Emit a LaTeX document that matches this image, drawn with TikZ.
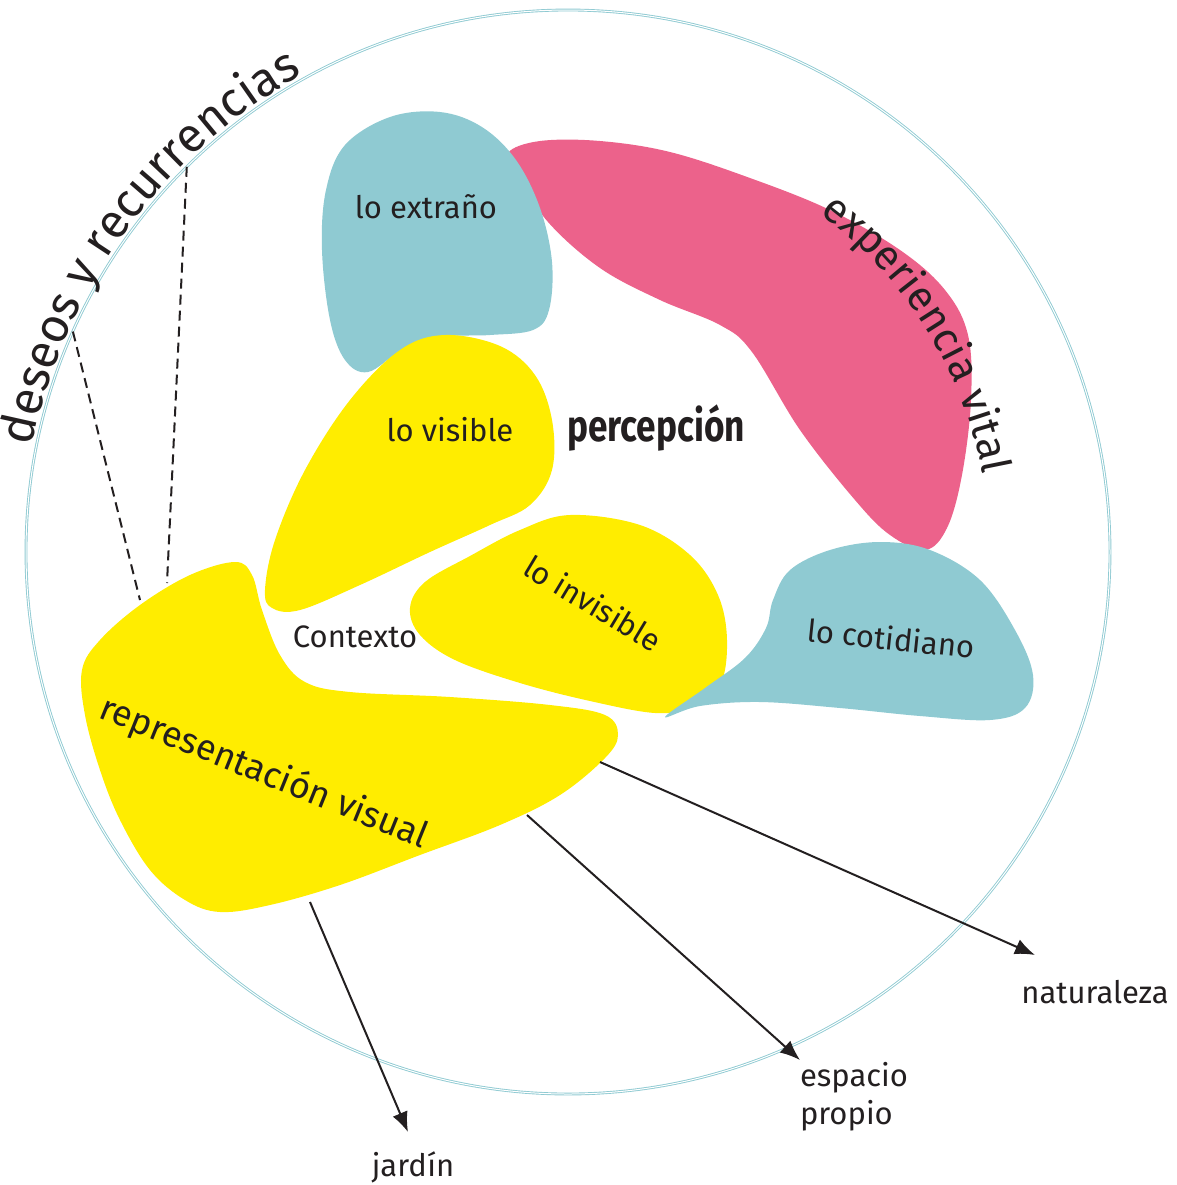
\documentclass[tikz,border=0pt]{standalone}
\usepackage{fontspec}
\setmainfont{Fira Sans}
\usetikzlibrary{arrows.meta,decorations.text,calc}
\definecolor{agua}{HTML}{8FCAD2}
\definecolor{rosa}{HTML}{EC628B}
\definecolor{amarillo}{HTML}{FFED00}
\definecolor{tinta}{HTML}{231F20}
\tikzstyle{etiqueta} = [text=tinta, inner sep=1pt, font=\fontsize{15.5}{19}\selectfont]
\tikzstyle{flecha} = [-{Latex[length=10pt,width=8pt]}, line width=1pt, draw=tinta]
\tikzstyle{guion} = [dash pattern=on 5pt off 3pt, line width=1pt, draw=tinta]
\tikzstyle{mancha} = [smooth cycle, tension=0.6]

\begin{document}
\begin{tikzpicture}[x=0.5pt,y=-0.5pt]
  \useasboundingbox (0,0) rectangle (1177,1185);
  \coordinate (c) at (568,552);
  % big circle
  \draw[agua, line width=0.45pt, double=white, double distance=0.5pt] (c) circle[radius=271pt];

  % blobs
  \fill[rosa] plot[mancha] coordinates {(508,153) (540,141) (600,141) (670,152) (750,178) (830,210) (900,250) (945,290) (968,335) (971,400) (962,475) (947,528) (925,550) (890,535) (855,500) (800,430) (752,352) (720,325) (660,300) (600,268) (548,222) (518,175)};
  \fill[agua] plot[mancha] coordinates {(440,112) (482,127) (516,160) (540,208) (552,262) (549,310) (533,330) (490,335) (440,337) (402,350) (368,372) (345,360) (330,320) (322,250) (326,190) (345,145) (390,117)};
  \fill[amarillo] plot[mancha] coordinates {(445,335) (500,346) (535,375) (552,420) (552,470) (530,505) (490,525) (430,552) (360,585) (300,610) (272,608) (265,590) (275,540) (305,470) (350,400) (400,350)};
  \fill[amarillo] plot[mancha] coordinates {(570,515) (640,525) (690,555) (718,595) (727,640) (720,685) (690,707) (655,713) (590,701) (520,683) (455,660) (420,635) (410,608) (425,582) (470,556) (520,530)};
  \fill[agua] plot[mancha] coordinates {(665,717) (705,688) (745,658) (766,628) (773,600) (790,570) (830,550) (880,542) (930,550) (980,580) (1015,630) (1033,675) (1025,708) (990,720) (920,716) (840,708) (760,702) (700,706)};
  \fill[amarillo] plot[mancha] coordinates {(235,562) (252,575) (262,610) (280,655) (305,682) (350,692) (450,697) (550,705) (605,715) (618,735) (605,758) (560,795) (500,825) (420,855) (340,885) (270,905) (220,912) (185,900) (150,870) (120,820) (100,770) (85,715) (82,670) (100,640) (140,605) (190,575)};

  % texts on the circle
  \path[decorate, decoration={text along path, text align=center,
      text={|\fontsize{24}{24}\selectfont\color{tinta}|deseos y recurrencias}}]
    ($(c)+(174:273pt)$) arc[start angle=174, end angle=114, radius=273pt];
  \path[decorate, decoration={text along path, text align=center,
      text={|\fontsize{21}{21}\selectfont\color{tinta}|experiencia vital}}]
    ($(c)+(62:211pt)$) arc[start angle=62, end angle=2, radius=211pt];

  % dashed links
  \coordinate (dA) at ($(c)+(156:271pt)$);
  \coordinate (dB) at ($(c)+(134.7:271pt)$);
  \coordinate (rA) at (140,600);
  \coordinate (rB) at (167,583);
  \draw[guion] (dA) -- (rA);
  \draw[guion] (dB) -- (rB);

  % labels
  \node[etiqueta] (extrano) at (426,207) {lo extraño};
  \node[etiqueta] (visible) at (450,430) {lo visible};
  \node[text=tinta, font=\fontsize{22}{22}\selectfont\bfseries, xscale=0.8, transform shape] (percepcion) at (656,428) {percepción};
  \node[etiqueta] (contexto) at (355,637) {Contexto};
  \node[etiqueta, rotate=-31] (invisible) at (593,603) {lo invisible};
  \node[etiqueta, rotate=-6] (cotidiano) at (891,638) {lo cotidiano};
  \node[etiqueta, rotate=-22, font=\fontsize{18}{20}\selectfont] (representacion) at (264,773) {representación visual};
  \node[etiqueta] (naturaleza) at (1095,992) {naturaleza};
  \node[etiqueta, align=left] (espacio) at (854,1097) {espacio\\propio};
  \node[etiqueta] (jardin) at (413,1167) {jardín};

  % arrows out of the visual representation
  \coordinate (repNat) at (600,762);
  \coordinate (repEsp) at (527,815);
  \coordinate (repJar) at (310,902);
  \draw[flecha] (repNat) -- ([shift={(-60,-37)}]naturaleza.center);
  \draw[flecha] (repEsp) -- ([shift={(-54,-37)}]espacio.center);
  \draw[flecha] (repJar) -- ([shift={(-5,-35)}]jardin.center);
\end{tikzpicture}
\end{document}
